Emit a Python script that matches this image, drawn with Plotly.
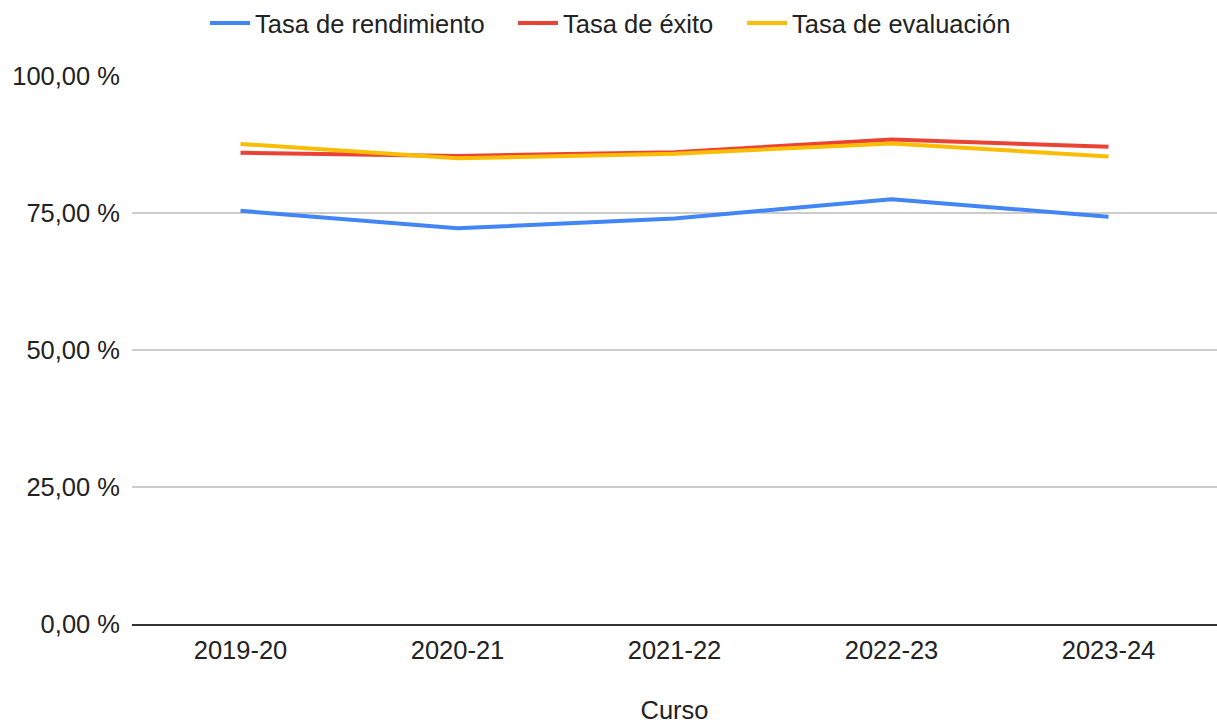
import plotly.graph_objects as go

cursos = ["2019-20", "2020-21", "2021-22", "2022-23", "2023-24"]
tasa_rendimiento = [75.4, 72.2, 74.0, 77.5, 74.3]
tasa_exito = [86.0, 85.4, 86.1, 88.4, 87.1]
tasa_evaluacion = [87.6, 85.0, 85.8, 87.7, 85.3]
y_ticks = [0, 25, 50, 75, 100]
y_labels = ["0,00 %", "25,00 %", "50,00 %", "75,00 %", "100,00 %"]

FONT = "Liberation Sans, Arial, sans-serif"
TXT = "#222222"
FS = 25.5

fig = go.Figure()
fig.add_trace(go.Scatter(x=cursos, y=tasa_rendimiento, mode="lines", name="Tasa de rendimiento",
                         line=dict(color="#4285F4", width=4), legendwidth=253))
fig.add_trace(go.Scatter(x=cursos, y=tasa_exito, mode="lines", name="Tasa de éxito",
                         line=dict(color="#EA4335", width=4), legendwidth=174))
fig.add_trace(go.Scatter(x=cursos, y=tasa_evaluacion, mode="lines", name="Tasa de evaluación",
                         line=dict(color="#FBBC04", width=4)))

fig.update_layout(
    width=1217, height=724,
    margin=dict(l=132, r=0, t=76, b=100),
    paper_bgcolor="white", plot_bgcolor="white",
    font=dict(family=FONT, size=FS, color=TXT),
    legend=dict(orientation="h", x=205 / 1217, xanchor="left", xref="container",
                y=1.0, yanchor="top", yref="container",
                font=dict(size=FS, color=TXT), itemwidth=40),
    showlegend=True,
)
fig.update_xaxes(
    type="category", range=[-0.5, 4.5], automargin=False,
    showgrid=False, showline=True, linecolor="#333333", linewidth=1.5,
    ticks="", tickfont=dict(size=FS, color=TXT), ticklabelstandoff=3,
    title=dict(text="Curso", font=dict(size=FS, color=TXT), standoff=47),
)
fig.update_yaxes(
    range=[0, 100], tickvals=y_ticks, ticktext=y_labels, automargin=False,
    showgrid=True, gridcolor="#cccccc", gridwidth=1.5,
    zeroline=False, showline=False, ticks="",
    tickfont=dict(size=FS, color=TXT), ticklabelstandoff=11,
)

fig.write_html("out.html", config={"displayModeBar": False},
               post_script="document.body.style.margin='0';document.body.style.overflow='hidden';")
